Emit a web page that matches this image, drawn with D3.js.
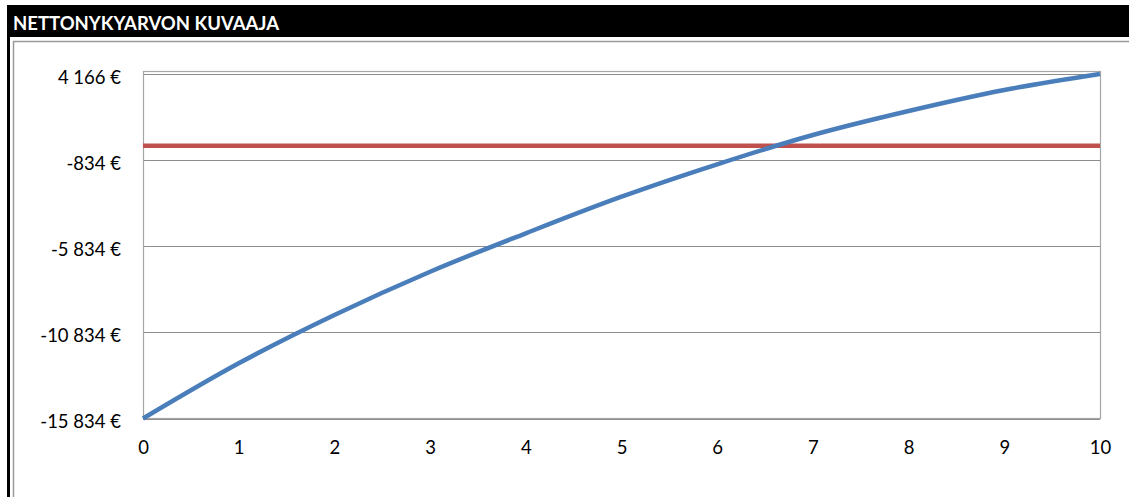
<!DOCTYPE html>
<html>
<head>
<meta charset="utf-8">
<script src="https://d3js.org/d3.v7.min.js"></script>
<style>
    body { margin: 0; background: #fff; }
    svg { display: block; font-family: Lato, 'Open Sans', sans-serif; }
</style>
</head>
<body>
<div id="chart"></div>
<script>
// Chart data
const chartTitle = 'NETTONYKYARVON KUVAAJA';
const years = [0, 1, 2, 3, 4, 5, 6, 7, 8, 9, 10];
const npvValues = [-15834, -12629, -9825, -7312, -5082, -2957, -1076, 625, 2018, 3237, 4166];
const zeroLine = [0, 0, 0, 0, 0, 0, 0, 0, 0, 0, 0];
const yTicks = [4166, -834, -5834, -10834, -15834];

const width = 1129;
const height = 497;
const plot = { left: 143, right: 1100, top: 74, bottom: 418.5 };

const svg = d3.select('#chart')
    .append('svg')
    .attr('width', width)
    .attr('height', height);

// Frame and title bar
svg.append('rect')
    .attr('x', 7).attr('y', 5)
    .attr('width', width - 7).attr('height', 32)
    .attr('fill', '#000');

svg.append('rect')
    .attr('x', 7).attr('y', 5)
    .attr('width', 3).attr('height', height - 5)
    .attr('fill', '#000');

svg.append('path')
    .attr('d', `M13.5,${height} V41.5 H${width}`)
    .attr('fill', 'none')
    .attr('stroke', '#9a9a9a')
    .attr('stroke-width', 1.5);

svg.append('text')
    .attr('x', 13)
    .attr('y', 30)
    .attr('fill', '#fff')
    .style('font-size', '18.5px')
    .style('font-weight', 'bold')
    .text(chartTitle);

// Scales
const x = d3.scaleLinear()
    .domain([d3.min(years), d3.max(years)])
    .range([plot.left, plot.right]);

const y = d3.scaleLinear()
    .domain([d3.min(yTicks), d3.max(yTicks)])
    .range([plot.bottom, plot.top]);

// Finnish style: space as thousands separator, plain hyphen minus
const fmt = v => d3.format(',')(v).replace(/,/g, ' ').replace('\u2212', '-') + ' €';

// Gridlines
svg.append('g')
    .selectAll('line')
    .data(yTicks)
    .enter()
    .append('line')
    .attr('x1', plot.left)
    .attr('x2', plot.right)
    .attr('y1', d => Math.round(y(d)) + 0.5)
    .attr('y2', d => Math.round(y(d)) + 0.5)
    .attr('stroke', '#8c8c8c')
    .attr('stroke-width', 1.2);

// Plot border
svg.append('rect')
    .attr('x', plot.left + 0.5)
    .attr('y', 71.5)
    .attr('width', plot.right - plot.left)
    .attr('height', plot.bottom - 71.5)
    .attr('fill', 'none')
    .attr('stroke', '#a6a6a6')
    .attr('stroke-width', 1.2);

// Y axis labels
const yAxis = d3.axisLeft(y)
    .tickValues(yTicks)
    .tickFormat(fmt)
    .tickSize(0)
    .tickPadding(22);

svg.append('g')
    .attr('transform', `translate(${plot.left},0)`)
    .call(yAxis)
    .call(g => g.select('.domain').remove())
    .call(g => g.selectAll('text')
        .attr('dy', '0.5em')
        .attr('fill', '#000')
        .style('font-family', 'Lato, sans-serif')
        .style('font-size', '18.5px'));

// X axis labels
const xAxis = d3.axisBottom(x)
    .tickValues(years)
    .tickFormat(d3.format('d'))
    .tickSize(0)
    .tickPadding(22);

svg.append('g')
    .attr('transform', `translate(0,${plot.bottom})`)
    .call(xAxis)
    .call(g => g.select('.domain').remove())
    .call(g => g.selectAll('text')
        .attr('fill', '#000')
        .style('font-family', 'Lato, sans-serif')
        .style('font-size', '18.5px'));

// Series
const line = d3.line()
    .x((d, i) => x(years[i]))
    .y(d => y(d));

svg.append('path')
    .datum(zeroLine)
    .attr('d', line)
    .attr('fill', 'none')
    .attr('stroke', '#c0504d')
    .attr('stroke-width', 4.5);

svg.append('path')
    .datum(npvValues)
    .attr('d', line.curve(d3.curveMonotoneX))
    .attr('fill', 'none')
    .attr('stroke', '#4a7ebb')
    .attr('stroke-width', 4.5)
    .attr('stroke-linejoin', 'round');
</script>
</body>
</html>
